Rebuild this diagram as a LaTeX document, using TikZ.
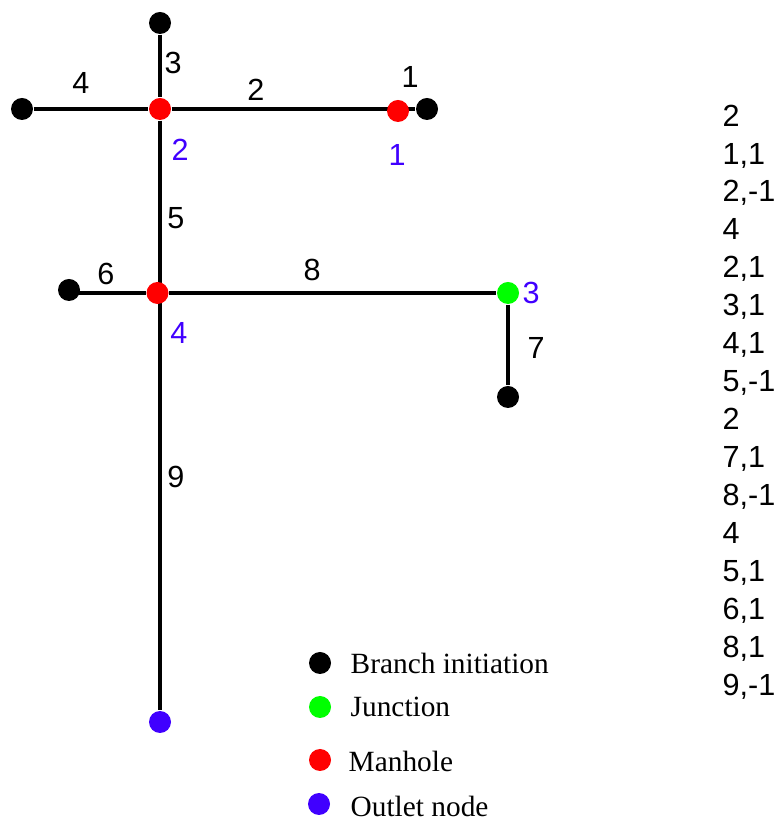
\documentclass[tikz,border=0pt]{standalone}
\usepackage{fontspec}
\usepackage{xcolor}
\usetikzlibrary{backgrounds}
\setmainfont{Liberation Serif}
\setsansfont{Liberation Sans}
\definecolor{outletblue}{RGB}{64,0,255}

\begin{document}
\begin{tikzpicture}[
            pt/.style={circle, inner sep=0pt, minimum size=0.22cm},
            branch/.style={pt, fill=black},
            manhole/.style={pt, fill=red},
            junction/.style={pt, fill=green},
            outlet/.style={pt, fill=outletblue},
            pipe/.style={black, line width=0.95pt},
            num/.style={inner sep=0pt, font=\sffamily\fontsize{8.7}{10}\selectfont},
            idnum/.style={num, text=outletblue},
            legend/.style={inner sep=0pt, anchor=west, font=\fontsize{8.35}{10}\selectfont}
        ]
            \useasboundingbox (0,0) rectangle (7.77,8.23);

% Upper branch
            \node[branch] (top) at (1.60,8.00) {};
            \node[branch] (west) at (0.22,7.14) {};
            \node[manhole] (mh2) at (1.60,7.14) {};
            \node[manhole] (mh1) at (3.98,7.12) {};
            \node[branch] (east) at (4.27,7.14) {};

% Lower branch
            \node[manhole] (mh4) at (1.575,5.30) {};
            \node[branch] (side) at (0.69,5.33) {};
            \node[junction] (jn3) at (5.08,5.30) {};
            \node[branch] (low) at (5.08,4.26) {};

% Outlet
            \node[outlet] (out) at (1.60,1.01) {};

% Pipes
            \begin{scope}[on background layer]
            \draw[pipe] (top) -- (mh2);
            \draw[pipe] (west) -- (mh2);
            \draw[pipe] (mh2) -- (mh1 |- mh2);
            \draw[pipe] (mh1 |- east) -- (east);
            \draw[pipe] (mh2) -- (mh2 |- mh4);
            \draw[pipe] (side |- mh4) -- (mh4);
            \draw[pipe] (mh4) -- (jn3);
            \draw[pipe] (jn3) -- (low);
            \draw[pipe] (mh2 |- mh4) -- (out);
            \end{scope}

% Pipe numbers
            \node[num] (n1) at (4.10,7.46) {1};
            \node[num] (n2) at (2.56,7.33) {2};
            \node[num] (n3) at (1.73,7.60) {3};
            \node[num] (n4) at (0.81,7.40) {4};
            \node[num] (n5) at (1.76,6.05) {5};
            \node[num] (n6) at (1.06,5.49) {6};
            \node[num] (n7) at (5.36,4.75) {7};
            \node[num] (n8) at (3.12,5.53) {8};
            \node[num] (n9) at (1.76,3.46) {9};

% Manhole and junction numbers
            \node[idnum] (id1) at (3.97,6.68) {1};
            \node[idnum] (id2) at (1.80,6.73) {2};
            \node[idnum] (id3) at (5.31,5.30) {3};
            \node[idnum] (id4) at (1.79,4.90) {4};

% Legend
            \node[branch] (lgbranch) at (3.20,1.60) {};
            \node[junction] (lgjunction) at (3.20,1.16) {};
            \node[manhole] (lgmanhole) at (3.20,0.63) {};
            \node[outlet] (lgoutlet) at (3.19,0.19) {};
            \node[legend] (txbranch) at (3.50,1.60) {Branch initiation};
            \node[legend] (txjunction) at (3.50,1.16) {Junction};
            \node[legend] (txmanhole) at (3.48,0.62) {Manhole};
            \node[legend] (txoutlet) at (3.50,0.17) {Outlet node};

% Side list
            \node[num, anchor=north west, align=left, font=\sffamily\fontsize{8.7}{10.8}\selectfont] (table) at (7.22,7.19) {2\\1,1\\2,-1\\4\\2,1\\3,1\\4,1\\5,-1\\2\\7,1\\8,-1\\4\\5,1\\6,1\\8,1\\9,-1};

        \end{tikzpicture}
\end{document}
